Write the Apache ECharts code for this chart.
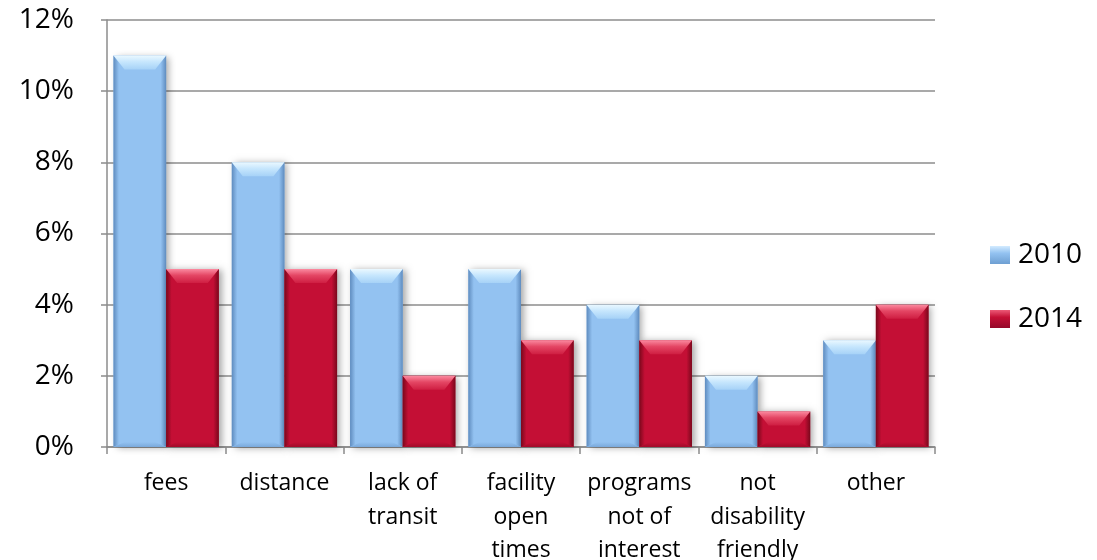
<!DOCTYPE html>
<html>
<head>
<meta charset="utf-8">
<script src="https://cdn.jsdelivr.net/npm/echarts@6/dist/echarts.min.js"></script>
<style>
  html, body { margin: 0; padding: 0; background: #fff; }
  #chart { width: 1097px; height: 560px; }
</style>
</head>
<body>
<div id="chart"></div>
<script>
// Barriers to using facilities, share of respondents by year
const categories = ['fees', 'distance', 'lack of\ntransit', 'facility\nopen\ntimes', 'programs\nnot of\ninterest', 'not\ndisability\nfriendly', 'other'];
const values2010 = [11, 8, 5, 5, 4, 2, 3];
const values2014 = [5, 5, 2, 3, 3, 1, 4];
const yTicks = [0, 2, 4, 6, 8, 10, 12];

const palettes = [
  { base: '#93c2f1', top: ['#eaf8ff', '#c6e6fd', '#a6d2f7'], side: '#5f8cbf', bottom: '#7aa9db' },
  { base: '#c40f35', top: ['#fb8aa0', '#e44664', '#cf1e42'], side: '#7a081c', bottom: '#a20b2a' }
];

function grad(x0, y0, x1, y1, stops) {
  return new echarts.graphic.LinearGradient(x0, y0, x1, y1,
    stops.map(s => ({ offset: s[0], color: s[1] })));
}

// Bevelled bar: flat face plus lighter top, darker sides and bottom
function renderBar(params, api) {
  const cat = api.value(0);
  const v = api.value(1);
  const top = api.coord([cat, v]);
  const base = api.coord([cat, 0]);
  const band = api.size([1, 0])[0];
  const w = band * 0.445;
  const x = top[0] + (params.seriesIndex === 0 ? -w : 0);
  const y = top[1];
  const h = base[1] - top[1];
  const p = palettes[params.seriesIndex];
  const bt = Math.min(14, h / 2);
  const bs = Math.min(11, w / 2);
  const bb = Math.min(5, h / 2);
  const sideL = grad(0, 0, 1, 0, [[0, p.side], [0.5, p.base], [1, p.base]]);
  const sideR = grad(1, 0, 0, 0, [[0, p.side], [0.5, p.base], [1, p.base]]);
  return {
    type: 'group',
    children: [
      { type: 'rect', shape: { x: x, y: y, width: w, height: h },
        style: { fill: p.base, shadowBlur: 7, shadowOffsetX: 3, shadowOffsetY: 1, shadowColor: 'rgba(0,0,0,0.35)' } },
      { type: 'polygon', shape: { points: [[x, y], [x + bs, y + bt], [x + bs, y + h - bb], [x, y + h]] },
        style: { fill: sideL } },
      { type: 'polygon', shape: { points: [[x + w, y], [x + w - bs, y + bt], [x + w - bs, y + h - bb], [x + w, y + h]] },
        style: { fill: sideR } },
      { type: 'polygon', shape: { points: [[x, y + h], [x + bs, y + h - bb], [x + w - bs, y + h - bb], [x + w, y + h]] },
        style: { fill: grad(0, 0, 0, 1, [[0, p.base], [1, p.bottom]]) } },
      { type: 'polygon', shape: { points: [[x, y], [x + w, y], [x + w - bs, y + bt], [x + bs, y + bt]] },
        style: { fill: grad(0, 0, 0, 1, [[0, p.top[0]], [0.45, p.top[1]], [1, p.top[2]]]) } }
    ]
  };
}

function toData(arr) {
  return arr.map((v, i) => [i, v]);
}

const chart = echarts.init(document.getElementById('chart'), null, { renderer: 'canvas' });
const font = '"Open Sans", Lato, sans-serif';

chart.setOption({
  animation: false,
  backgroundColor: '#ffffff',
  grid: { left: 107, right: 162, top: 20, bottom: 113, containLabel: false, outerBoundsMode: 'none' },
  legend: {
    orient: 'vertical',
    left: 985,
    top: 236,
    itemGap: 36,
    itemWidth: 20,
    itemHeight: 18,
    icon: 'rect',
    textStyle: { fontFamily: font, fontSize: 28, color: '#000', padding: [0, 0, 0, 3] },
    data: [
      { name: '2010', itemStyle: { color: grad(0, 0, 0, 1, [[0, '#d3ebff'], [0.4, '#93c2f1'], [1, '#6e9fd2']]) } },
      { name: '2014', itemStyle: { color: grad(0, 0, 0, 1, [[0, '#ec5a77'], [0.4, '#c40f35'], [1, '#95092a']]) } }
    ]
  },
  xAxis: {
    type: 'category',
    data: categories,
    axisLine: { show: true, lineStyle: { color: '#8c8c8c', width: 1.5 } },
    axisTick: { show: true, length: 7, lineStyle: { color: '#8c8c8c', width: 1.5 } },
    axisLabel: { fontFamily: font, fontSize: 23, color: '#000', margin: 20, lineHeight: 33.5, interval: 0 }
  },
  yAxis: {
    type: 'value',
    min: yTicks[0],
    max: yTicks[yTicks.length - 1],
    interval: 2,
    axisLine: { show: true, lineStyle: { color: '#8c8c8c', width: 1.5 } },
    axisTick: { show: true, length: 6, lineStyle: { color: '#8c8c8c', width: 1.5 } },
    splitLine: { show: true, lineStyle: { color: '#8c8c8c', width: 1.5 } },
    axisLabel: { fontFamily: font, fontSize: 28, color: '#000', margin: 33, formatter: '{value}%' }
  },
  series: [
    { name: '2010', type: 'custom', renderItem: renderBar, itemStyle: { color: '#93c2f1' },
      encode: { x: 0, y: 1 }, data: toData(values2010), z: 3 },
    { name: '2014', type: 'custom', renderItem: renderBar, itemStyle: { color: '#c40f35' },
      encode: { x: 0, y: 1 }, data: toData(values2014), z: 4 }
  ]
});
</script>
</body>
</html>
